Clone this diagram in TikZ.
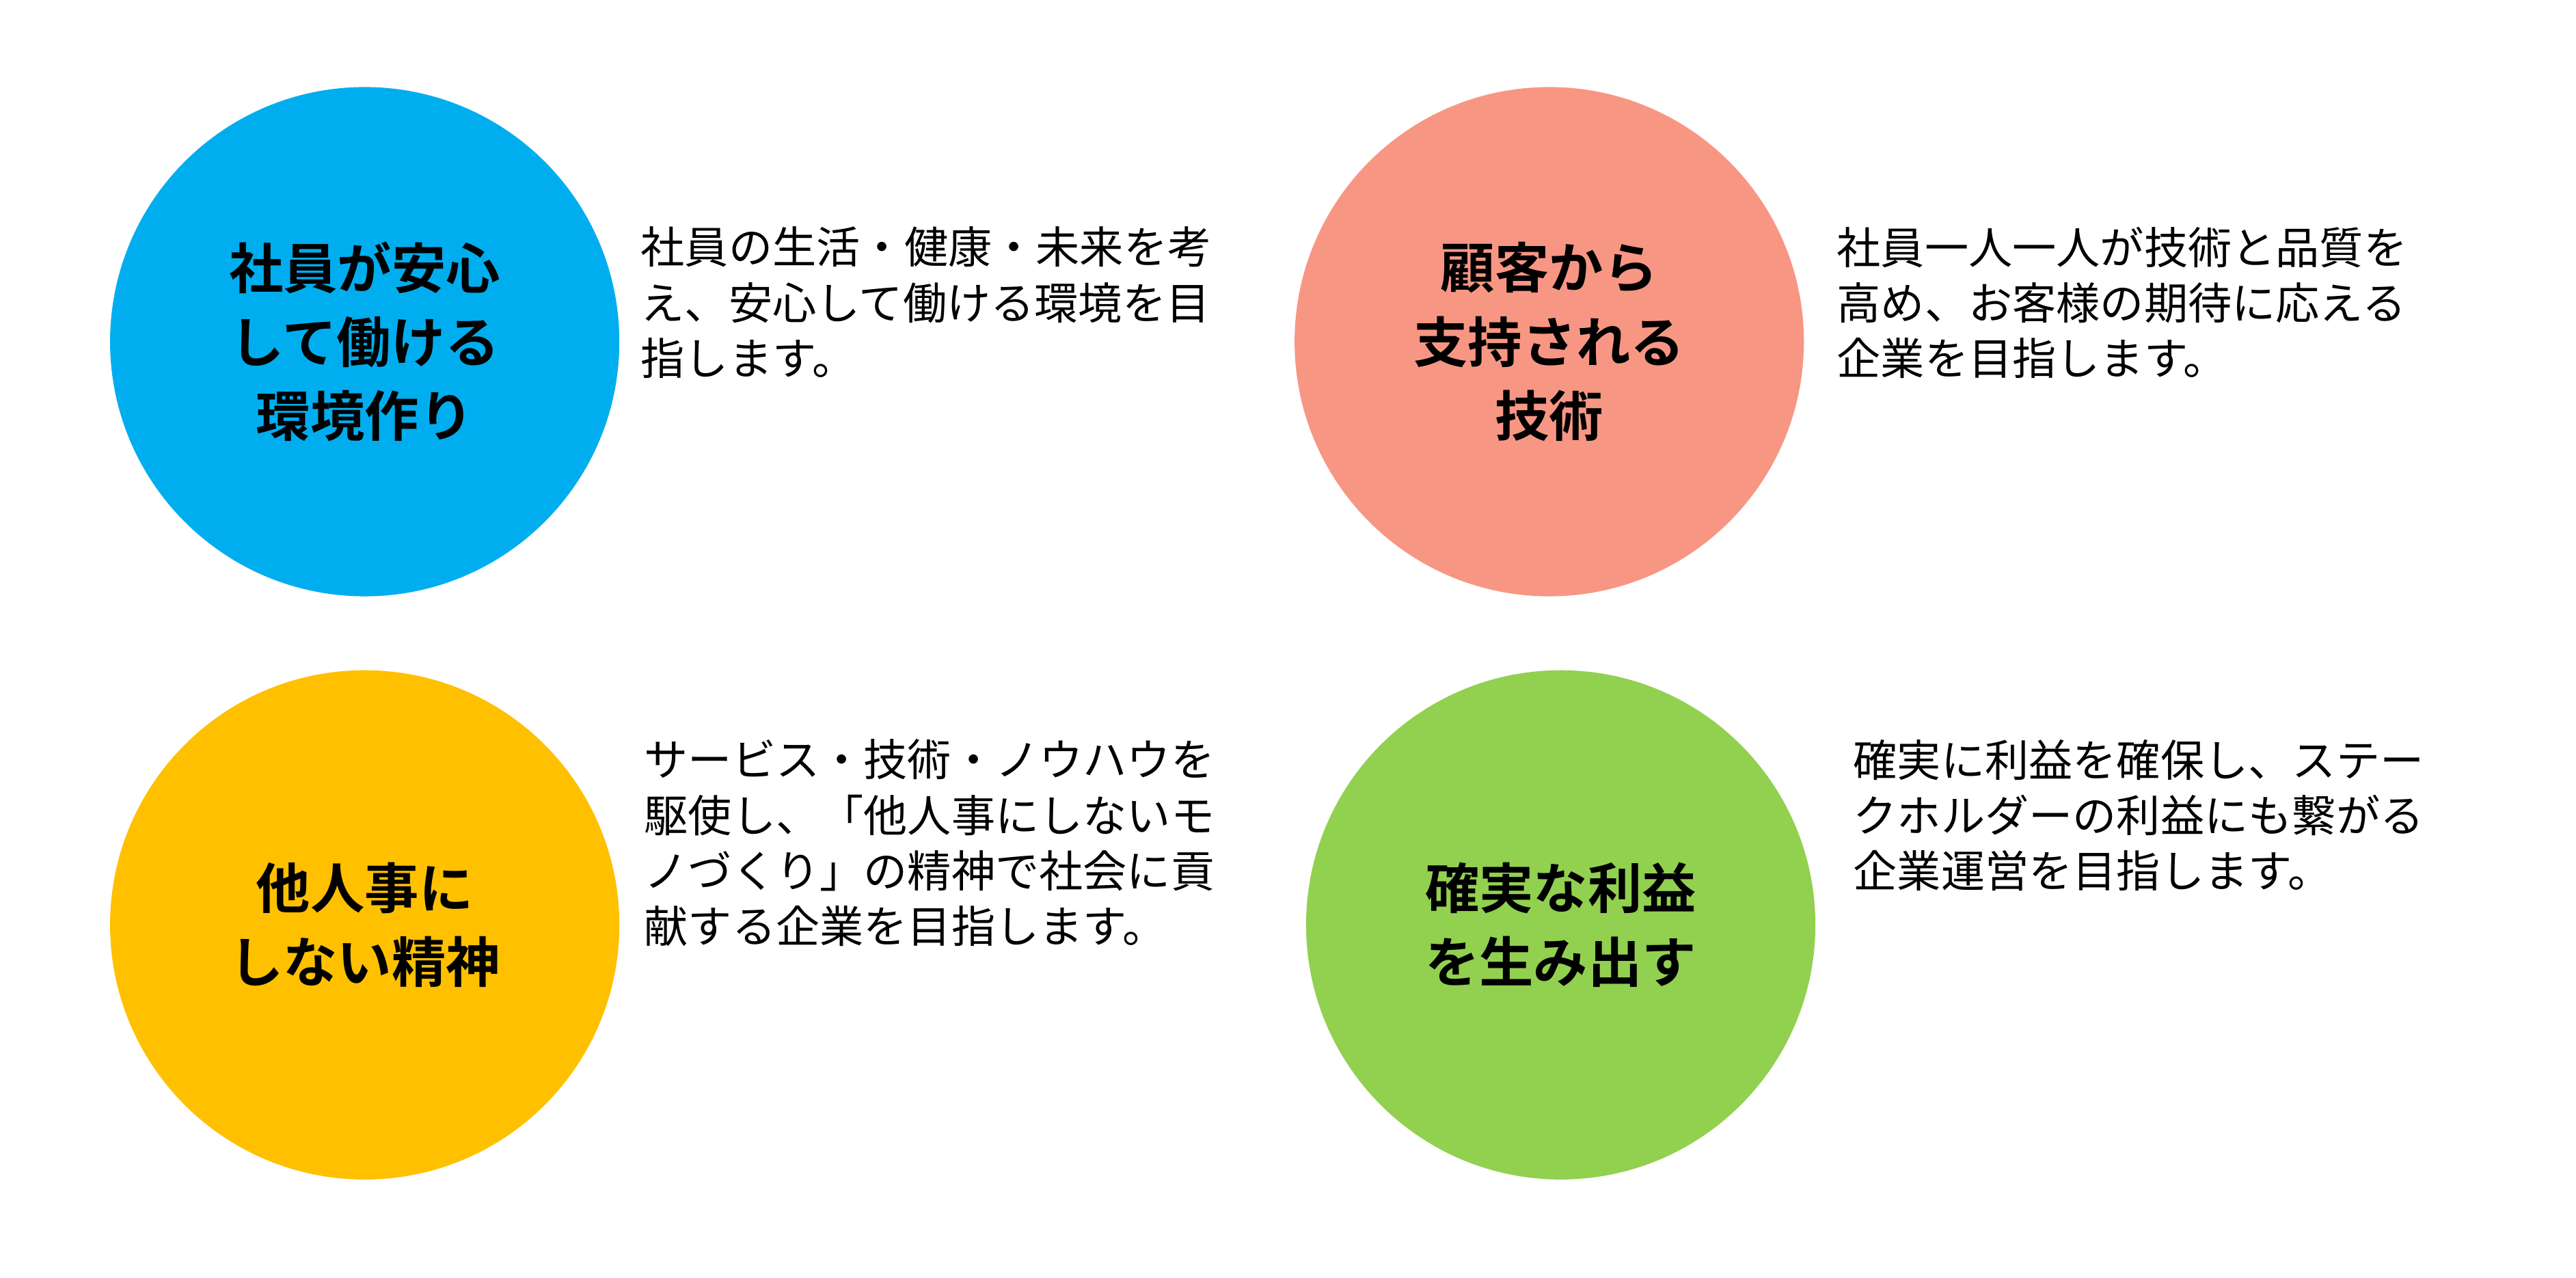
\documentclass[tikz,border=0pt]{standalone}
\usepackage{fontspec}
\setmainfont{Noto Sans CJK JP}
\newfontfamily\jpb{Noto Sans CJK JP Bold}
\definecolor{cblue}{HTML}{00AEEF}
\definecolor{csalmon}{HTML}{F89684}
\definecolor{cyellow}{HTML}{FFC000}
\definecolor{cgreen}{HTML}{92D050}
\tikzset{
 circ/.style={circle,minimum size=15.5cm,inner sep=0pt,align=center,font=\jpb\fontsize{47}{64}\selectfont},
 desc/.style={anchor=north west,inner sep=0pt,align=left,font=\fontsize{38}{48}\selectfont}
}
\begin{document}
\begin{tikzpicture}
\useasboundingbox[fill=white] (0,0) rectangle (78.4,-38.88);
\node[circ,fill=cblue] (c1) at (11.1,-10.4) {社員が安心\\して働ける\\環境作り};
\node[circ,fill=csalmon] (c2) at (47.15,-10.4) {顧客から\\支持される\\技術};
\node[circ,fill=cyellow] (c3) at (11.1,-28.15) {他人事に\\しない精神};
\node[circ,fill=cgreen] (c4) at (47.5,-28.15) {確実な利益\\を生み出す};
\node[desc] (t1) at (19.5,-6.9) {社員の生活・健康・未来を考\\え、安心して働ける環境を目\\指します。};
\node[desc] (t2) at (55.9,-6.9) {社員一人一人が技術と品質を\\高め、お客様の期待に応える\\企業を目指します。};
\node[desc] (t3) at (19.6,-22.5) {サービス・技術・ノウハウを\\駆使し、「他人事にしないモ\\ノづくり」の精神で社会に貢\\献する企業を目指します。};
\node[desc] (t4) at (56.4,-22.5) {確実に利益を確保し、ステー\\クホルダーの利益にも繋がる\\企業運営を目指します。};
\end{tikzpicture}
\end{document}
